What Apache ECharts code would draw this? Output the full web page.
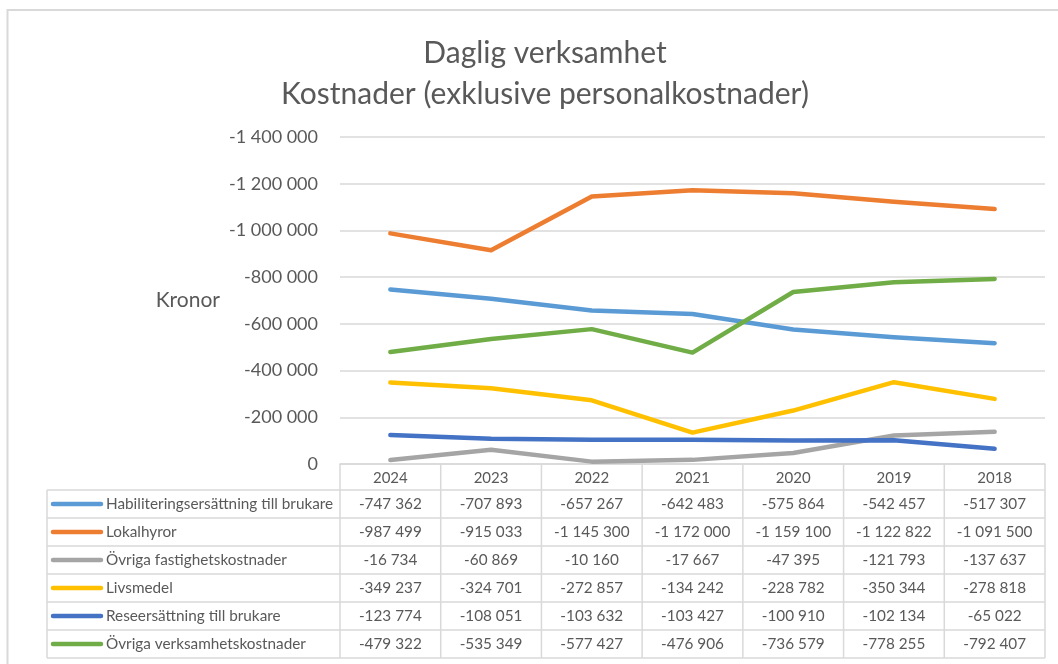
<!DOCTYPE html>
<html>
<head>
<meta charset="utf-8">
<script src="https://cdn.jsdelivr.net/npm/echarts@6/dist/echarts.min.js"></script>
<style>
  html, body { margin: 0; padding: 0; background: #ffffff; }
  #chart { width: 1058px; height: 664px; }
</style>
</head>
<body>
<div id="chart"></div>
<script>
// Years (columns of the data table, left to right)
const years = ['2024', '2023', '2022', '2021', '2020', '2019', '2018'];

// Cost categories, in table order
const seriesNames = [
  'Habiliteringsersättning till brukare',
  'Lokalhyror',
  'Övriga fastighetskostnader',
  'Livsmedel',
  'Reseersättning till brukare',
  'Övriga verksamhetskostnader'
];

// Values in kronor per year
const habilitering     = [-747362, -707893, -657267, -642483, -575864, -542457, -517307];
const lokalhyror       = [-987499, -915033, -1145300, -1172000, -1159100, -1122822, -1091500];
const ovrigaFastighet  = [-16734, -60869, -10160, -17667, -47395, -121793, -137637];
const livsmedel        = [-349237, -324701, -272857, -134242, -228782, -350344, -278818];
const reseersattning   = [-123774, -108051, -103632, -103427, -100910, -102134, -65022];
const ovrigaVerksamhet = [-479322, -535349, -577427, -476906, -736579, -778255, -792407];

// Value axis range
const yMin = -1400000;
const yMax = 0;
const yStep = 200000;

const seriesValues = [habilitering, lokalhyror, ovrigaFastighet, livsmedel, reseersattning, ovrigaVerksamhet];
const palette = ['#5B9BD5', '#ED7D31', '#A5A5A5', '#FFC000', '#4472C4', '#70AD47'];

const FONT = 'Lato, "Open Sans", sans-serif';
const TEXT = '#595959';
const RULE = '#d9d9d9';

function fmt(v) {
  const s = Math.abs(v).toString().replace(/\B(?=(\d{3})+(?!\d))/g, ' ');
  return (v < 0 ? '-' : '') + s;
}

const chart = echarts.init(document.getElementById('chart'), null, { renderer: 'canvas' });

const GRID = { left: 340, right: 13, top: 137, bottom: 200 };

chart.setOption({
  backgroundColor: '#ffffff',
  animation: false,
  title: {
    text: 'Daglig verksamhet\nKostnader (exklusive personalkostnader)',
    left: 540,
    top: 28,
    textAlign: 'center',
    textStyle: { fontFamily: FONT, fontSize: 30, fontWeight: 'normal', color: TEXT, lineHeight: 41 }
  },
  grid: GRID,
  xAxis: {
    type: 'category',
    data: years,
    boundaryGap: true,
    axisLine: { show: true, lineStyle: { color: RULE, width: 1.5 } },
    axisTick: { show: false },
    axisLabel: { color: TEXT, fontFamily: FONT, fontSize: 15, margin: 7 },
    splitLine: { show: false }
  },
  yAxis: {
    type: 'value',
    inverse: true,
    min: yMin,
    max: yMax,
    interval: yStep,
    name: 'Kronor',
    nameLocation: 'middle',
    nameRotate: 0,
    nameGap: 120,
    nameTextStyle: { color: TEXT, fontFamily: FONT, fontSize: 21, padding: [0, 0, 6, 0] },
    axisLine: { show: false },
    axisTick: { show: false },
    axisLabel: { color: TEXT, fontFamily: FONT, fontSize: 18, margin: 22, formatter: fmt },
    splitLine: { show: true, lineStyle: { color: RULE, width: 1.5 } }
  },
  series: seriesNames.map((name, i) => ({
    name: name,
    type: 'line',
    data: seriesValues[i],
    symbol: 'none',
    lineStyle: { color: palette[i], width: 4.5, cap: 'round', join: 'round' },
    itemStyle: { color: palette[i] },
    z: 3
  }))
});

// Data table drawn under the plot, aligned with the category columns
function drawTable() {
  const centers = years.map((_, i) => chart.convertToPixel({ xAxisIndex: 0 }, i));
  const colW = centers[1] - centers[0];
  const x0 = centers[0] - colW / 2;
  const x1 = centers[centers.length - 1] + colW / 2;
  const headTop = 464;
  const headBottom = 490;
  const rowH = 28;
  const legendLeft = 47;
  const tableBottom = headBottom + rowH * seriesNames.length;

  const els = [];
  const line = (xa, ya, xb, yb) => els.push({
    type: 'line',
    shape: { x1: xa, y1: ya, x2: xb, y2: yb },
    style: { stroke: RULE, lineWidth: 1.5 },
    silent: true
  });

  // horizontal rules
  for (let r = 0; r <= seriesNames.length; r++) {
    line(legendLeft, headBottom + r * rowH, x1, headBottom + r * rowH);
  }
  // vertical rules
  line(legendLeft, headBottom, legendLeft, tableBottom);
  for (let c = 0; c <= years.length; c++) {
    const x = x0 + c * colW;
    line(x, headTop, x, tableBottom);
  }

  seriesNames.forEach((name, r) => {
    const cy = headBottom + r * rowH + rowH / 2;
    els.push({
      type: 'line',
      shape: { x1: 53, y1: cy, x2: 101, y2: cy },
      style: { stroke: palette[r], lineWidth: 4.5, lineCap: 'round' },
      silent: true
    });
    els.push({
      type: 'text',
      x: 106, y: cy,
      style: { text: name, fill: TEXT, font: '15.3px ' + FONT, textAlign: 'left', textVerticalAlign: 'middle' },
      silent: true
    });
    seriesValues[r].forEach((v, c) => {
      els.push({
        type: 'text',
        x: centers[c], y: cy,
        style: { text: fmt(v), fill: TEXT, font: '15.3px ' + FONT, textAlign: 'center', textVerticalAlign: 'middle' },
        silent: true
      });
    });
  });

  // outer chart frame
  els.push({
    type: 'rect',
    shape: { x: 7.5, y: 10, width: 1070, height: 680 },
    style: { fill: 'none', stroke: RULE, lineWidth: 2 },
    silent: true
  });

  chart.setOption({ graphic: { elements: els } });
}

drawTable();
</script>
</body>
</html>
